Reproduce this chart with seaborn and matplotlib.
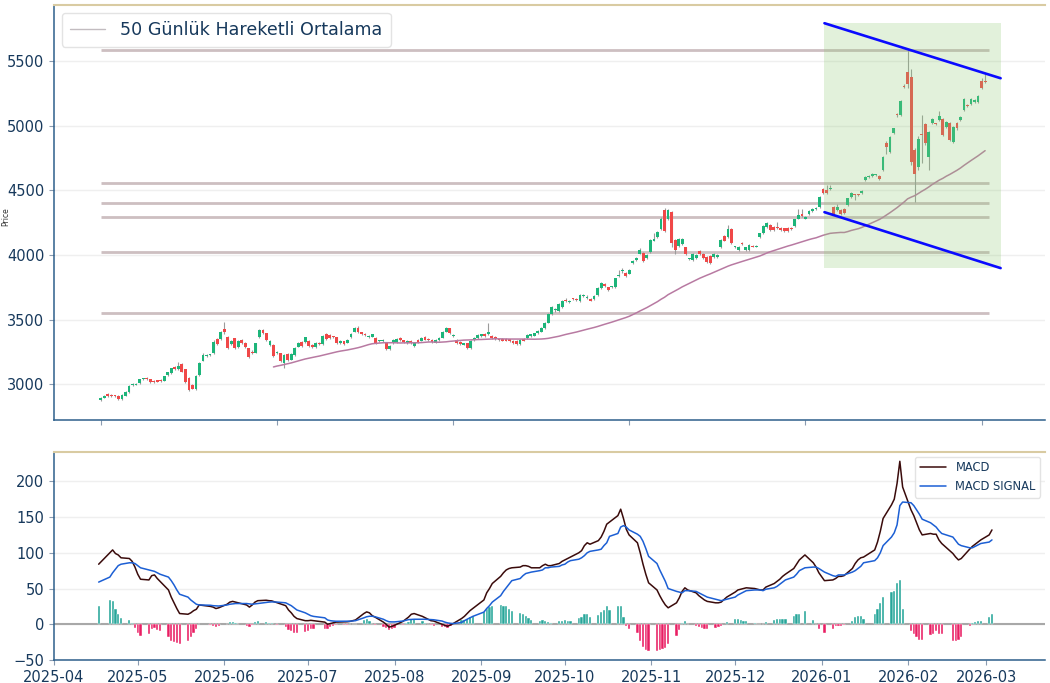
import numpy as np
import pandas as pd
import matplotlib
matplotlib.use("Agg")
import matplotlib.pyplot as plt
import matplotlib.dates as mdates
from matplotlib.lines import Line2D
import seaborn as sns

# ----------------------------------------
# Data (daily candles)
# ----------------------------------------

opens = [
    2876, 2894, 2920, 2914, 2908, 2910, 2881, 2910, 2938, 2990,
    2995, 3005, 3036, 3046, 3036, 3026, 3026, 3030, 3026, 3067,
    3085, 3134, 3116, 3152, 3116, 3044, 2992, 2964, 3070, 3181,
    3217, 3222, 3237, 3346, 3346, 3423, 3366, 3307, 3353, 3289,
    3341, 3320, 3276, 3250, 3243, 3361, 3418, 3392, 3302, 3302,
    3237, 3237, 3165, 3230, 3190, 3225, 3290, 3328, 3328, 3335,
    3305, 3285, 3318, 3307, 3387, 3380, 3368, 3362, 3316, 3330,
    3320, 3366, 3405, 3438, 3400, 3388, 3362, 3368, 3360, 3330,
    3330, 3315, 3268, 3320, 3328, 3358, 3338, 3320, 3333, 3295,
    3340, 3335, 3366, 3350, 3341, 3320, 3341, 3359, 3405, 3431,
    3370, 3345, 3328, 3305, 3315, 3276, 3340, 3353, 3370, 3387,
    3384, 3374, 3366, 3342, 3350, 3348, 3347, 3333, 3335, 3310,
    3348, 3353, 3371, 3374, 3392, 3405, 3431, 3475, 3542, 3570,
    3568, 3593, 3650, 3632, 3662, 3660, 3642, 3685, 3668, 3658,
    3658, 3689, 3746, 3774, 3748, 3752, 3748, 3836, 3872, 3861,
    3856, 3936, 3960, 4011, 4016, 3973, 4024, 4110, 4140, 4197,
    4347, 4282, 4334, 4115, 4070, 4085, 4058, 3965, 3960, 3973,
    4032, 4011, 3986, 3993, 3986, 3986, 4063, 4145, 4140, 4197,
    4060, 4040, 4093, 4037, 4037, 4068, 4065, 4135, 4171, 4218,
    4231, 4218, 4212, 4212, 4205, 4210, 4210, 4223, 4282, 4316,
    4282, 4316, 4341, 4352, 4372, 4507, 4500, 4512, 4372, 4347,
    4347, 4352, 4385, 4450, 4466, 4466, 4476, 4579, 4605, 4613,
    4615, 4613, 4656, 4863, 4798, 4945, 5085, 5085, 5305, 5417,
    5379, 4811, 4682, 4930, 5010, 4760, 5018, 5015, 5043, 5056,
    4992, 5018, 4876, 5018, 5043, 5121, 5160, 5167, 5185, 5185,
    5348, 5342,
]

highs = [
    2900, 2916, 2928, 2920, 2914, 2914, 2920, 2944, 2990, 3006,
    3008, 3040, 3050, 3054, 3040, 3030, 3032, 3036, 3064, 3094,
    3128, 3140, 3170, 3160, 3120, 3055, 3000, 3070, 3170, 3240,
    3235, 3232, 3340, 3355, 3412, 3483, 3375, 3345, 3360, 3340,
    3350, 3326, 3282, 3262, 3322, 3425, 3424, 3398, 3345, 3310,
    3255, 3244, 3232, 3240, 3240, 3288, 3326, 3334, 3368, 3340,
    3312, 3325, 3326, 3378, 3392, 3386, 3375, 3368, 3342, 3336,
    3350, 3392, 3440, 3450, 3406, 3394, 3380, 3390, 3366, 3342,
    3346, 3320, 3302, 3346, 3355, 3364, 3344, 3338, 3338, 3326,
    3346, 3366, 3372, 3356, 3346, 3346, 3364, 3410, 3444, 3436,
    3384, 3350, 3334, 3322, 3320, 3342, 3366, 3385, 3390, 3394,
    3475, 3380, 3372, 3350, 3356, 3354, 3352, 3338, 3340, 3346,
    3354, 3385, 3390, 3398, 3416, 3444, 3482, 3550, 3605, 3590,
    3626, 3650, 3670, 3650, 3668, 3668, 3696, 3700, 3688, 3664,
    3686, 3752, 3790, 3780, 3752, 3762, 3824, 3882, 3895, 3866,
    3893, 3960, 3984, 4050, 4022, 4006, 4122, 4166, 4186, 4290,
    4365, 4352, 4340, 4122, 4128, 4134, 4065, 3975, 4018, 4005,
    4040, 4018, 3992, 4000, 4012, 4005, 4122, 4152, 4230, 4205,
    4072, 4066, 4100, 4064, 4082, 4074, 4078, 4172, 4230, 4258,
    4238, 4224, 4257, 4218, 4212, 4216, 4216, 4282, 4352, 4352,
    4302, 4348, 4360, 4368, 4458, 4515, 4540, 4545, 4380, 4398,
    4354, 4360, 4444, 4490, 4472, 4474, 4500, 4612, 4616, 4634,
    4628, 4620, 4768, 4880, 4922, 4986, 5095, 5200, 5320, 5585,
    5440, 4830, 4920, 5082, 5020, 4960, 5064, 5024, 5113, 5064,
    5040, 5026, 5000, 5026, 5076, 5214, 5168, 5214, 5206, 5240,
    5370, 5397,
]

lows = [
    2870, 2890, 2902, 2900, 2898, 2878, 2876, 2906, 2934, 2984,
    2990, 3000, 3030, 3030, 3010, 3008, 3014, 3020, 3022, 3062,
    3080, 3110, 3110, 3090, 3010, 2950, 2960, 2958, 3065, 3175,
    3210, 3215, 3230, 3305, 3340, 3390, 3268, 3300, 3275, 3282,
    3310, 3282, 3205, 3236, 3238, 3355, 3385, 3334, 3296, 3210,
    3230, 3170, 3127, 3182, 3184, 3220, 3284, 3288, 3322, 3290,
    3278, 3280, 3302, 3300, 3344, 3350, 3356, 3310, 3310, 3306,
    3315, 3360, 3400, 3395, 3378, 3372, 3356, 3362, 3308, 3324,
    3325, 3262, 3262, 3314, 3322, 3335, 3318, 3314, 3308, 3290,
    3322, 3330, 3340, 3332, 3322, 3315, 3336, 3354, 3400, 3386,
    3362, 3314, 3304, 3300, 3270, 3270, 3335, 3348, 3364, 3368,
    3380, 3348, 3342, 3334, 3330, 3330, 3328, 3310, 3305, 3305,
    3330, 3348, 3366, 3370, 3386, 3400, 3426, 3470, 3536, 3562,
    3562, 3588, 3636, 3626, 3650, 3644, 3636, 3678, 3662, 3640,
    3652, 3684, 3740, 3754, 3722, 3746, 3742, 3830, 3860, 3830,
    3850, 3930, 3954, 4005, 3944, 3966, 4018, 4104, 4134, 4190,
    4180, 4272, 4060, 4011, 4064, 4078, 4000, 3958, 3954, 3966,
    4000, 3966, 3940, 3928, 3980, 3980, 4056, 4104, 4134, 4082,
    4052, 4034, 4078, 4030, 4030, 4058, 4058, 4128, 4165, 4212,
    4186, 4186, 4204, 4186, 4180, 4180, 4190, 4216, 4276, 4294,
    4276, 4310, 4335, 4346, 4366, 4470, 4470, 4505, 4308, 4340,
    4310, 4314, 4378, 4444, 4424, 4456, 4470, 4572, 4598, 4606,
    4608, 4582, 4648, 4780, 4790, 4938, 5070, 5078, 5290, 5290,
    4700, 4411, 4660, 4708, 4850, 4656, 5010, 5004, 5036, 4920,
    4984, 4880, 4868, 4970, 5036, 5114, 5148, 5160, 5178, 5178,
    5286, 5330,
]

closes = [
    2894, 2910, 2907, 2906, 2905, 2884, 2915, 2938, 2985, 3000,
    3002, 3036, 3041, 3036, 3015, 3015, 3020, 3025, 3059, 3090,
    3121, 3116, 3139, 3096, 3018, 2954, 2964, 3062, 3160, 3225,
    3225, 3226, 3328, 3312, 3405, 3400, 3276, 3335, 3281, 3333,
    3315, 3289, 3212, 3243, 3315, 3418, 3392, 3341, 3335, 3217,
    3245, 3178, 3225, 3190, 3232, 3281, 3320, 3294, 3362, 3297,
    3285, 3318, 3310, 3371, 3350, 3355, 3362, 3316, 3335, 3312,
    3345, 3387, 3433, 3400, 3385, 3378, 3375, 3385, 3315, 3336,
    3340, 3268, 3297, 3340, 3349, 3340, 3325, 3333, 3315, 3320,
    3328, 3360, 3345, 3338, 3328, 3341, 3359, 3405, 3438, 3392,
    3376, 3320, 3310, 3315, 3276, 3335, 3360, 3379, 3384, 3374,
    3405, 3353, 3348, 3340, 3335, 3335, 3333, 3315, 3310, 3340,
    3335, 3379, 3384, 3392, 3410, 3438, 3475, 3542, 3598, 3580,
    3619, 3642, 3642, 3642, 3655, 3650, 3689, 3690, 3674, 3645,
    3681, 3746, 3779, 3760, 3727, 3755, 3818, 3845, 3878, 3836,
    3887, 3952, 3978, 4042, 3950, 3999, 4115, 4127, 4179, 4282,
    4187, 4347, 4089, 4037, 4120, 4127, 4006, 3968, 4011, 3999,
    4006, 3973, 3947, 3934, 4006, 3999, 4115, 4110, 4197, 4089,
    4065, 4060, 4085, 4058, 4076, 4065, 4070, 4166, 4223, 4251,
    4192, 4192, 4210, 4192, 4187, 4187, 4197, 4275, 4308, 4300,
    4295, 4341, 4352, 4360, 4450, 4476, 4476, 4518, 4316, 4372,
    4316, 4321, 4437, 4483, 4462, 4463, 4494, 4605, 4608, 4626,
    4620, 4589, 4760, 4832, 4914, 4979, 5080, 5190, 5298, 5322,
    4721, 4625, 4901, 4925, 4863, 4953, 5056, 5012, 5074, 4927,
    5030, 4889, 4992, 4979, 5069, 5206, 5155, 5206, 5198, 5232,
    5296, 5338,
]

# trading calendar of the candles
start_day = "2025-03-03"
end_day = "2026-03-03"
holidays = ["2025-04-18", "2025-05-26", "2025-06-19", "2025-07-04", "2025-09-01",
            "2025-11-27", "2025-12-25", "2026-01-01", "2026-01-19", "2026-02-16"]

# support / resistance levels and the channel
levels = [5585, 4558, 4400, 4290, 4019, 3547]
channel_x = [205.4, 255.4]
channel_top = [5794, 5368]
channel_bottom = [4331, 3898]

# MACD panel (starts at the 34th candle)
macd_vals = [
    84, 100, 104, 99, 97, 93, 92, 88, 80,
    70, 63, 62, 68, 69, 64, 60, 48, 38, 30, 22, 15, 14, 16, 19, 21, 27, 25, 24, 22, 23,
    28, 31, 32, 31, 30, 27, 24, 27, 31, 33, 33.6, 33, 32.7, 30, 26, 20, 16, 11, 8, 5,
    5, 5.5, 5, 3, 0, 1, 2, 3, 3.3, 3.5, 4, 5, 6, 15, 17.3, 16, 12, 10, 3, 0, -4, -3,
    -1.4, 4, 7, 10, 14, 15, 11, 9, 7, 5, 4.5, 0, -1.5, -2.8, -1, 1, 8, 11, 15, 19, 22,
    34, 44, 50, 57, 67, 72, 76, 78, 79, 80, 82, 82, 81, 79, 79, 82, 84, 82, 82, 85, 88,
    90, 92, 94, 100, 103, 110, 114, 112, 117, 122, 130, 140, 143, 152, 161, 148, 133, 125,
    114, 100, 84, 70, 58,
    48, 40, 33, 27, 23, 30, 37, 46, 51, 48, 44, 40, 37, 34, 32, 30, 30, 31, 38,
    45, 48, 49, 50, 51, 50, 49, 48, 48, 52, 57, 60, 63, 67, 70, 78, 84, 90, 97, 86, 80, 72,
    61, 62, 64, 67, 67, 68, 78, 85, 90, 93, 94, 104, 115, 130, 148, 167, 175, 197, 228, 192,
    160, 152, 142, 132, 125, 127, 126, 126, 118, 113, 99, 94, 90, 92, 105, 109, 112, 115, 118,
    125, 132,
]

signal_vals = [
    59, 66, 72, 77, 82, 84, 86, 86, 85,
    82, 79, 76, 75, 74, 72, 70, 66, 61, 55, 48, 42, 38, 34, 31, 28, 27, 26.6, 26, 25.7, 25.5,
    27, 28, 28.5, 29, 29, 29, 28.5, 28, 28.5, 29, 30.5, 31, 31.3, 31, 30, 28, 26, 23, 20, 16,
    14, 12, 11, 9, 6, 5, 4.5, 4.2, 4.2, 4.2, 4.3, 4.6, 5, 9, 10.5, 11.2, 11.2, 10.5, 7, 5, 3.5, 3.3,
    3.3, 4.5, 5.5, 6.5, 6.8, 7, 7, 7, 6.8, 6.5, 6.3, 4.5, 3, 1.9, 1.3, 1, 2.5, 5, 7, 9, 11,
    17, 22, 26, 31, 40, 46, 51, 56, 61, 64, 68, 71, 72, 73, 75, 76, 79, 79, 80, 81, 83,
    84, 87, 89, 91, 93, 96, 100, 102, 104, 105, 110, 114, 123, 127, 136, 138, 136, 132,
    126, 123, 116, 106, 95,
    85, 76, 68, 60, 50, 46, 45, 44, 47, 47, 46, 44, 42, 40, 38, 35, 34, 33, 35,
    38, 41, 43, 45, 47, 48, 48, 48, 47, 49, 51, 53, 56, 59, 62, 66, 70, 75, 79, 80, 80, 78,
    73, 68, 67, 69, 69, 69, 73, 75, 78, 81, 86, 89, 93, 100, 110, 122, 128, 139, 166, 171,
    170, 166, 160, 154, 147, 142, 139, 136, 131, 127, 122, 117, 112, 110, 107, 107, 109, 111, 113,
    115, 118,
]

# ----------------------------------------
# Colours
# ----------------------------------------

GREEN = "#1db57a"
RED = "#f04848"
WICK = "#9b9b9b"
NAVY = "#17395c"
SPINE = "#2d5f8b"
TAN = "#d9cba2"

# ----------------------------------------
# Frames
# ----------------------------------------

df = pd.DataFrame({"open": opens, "high": highs, "low": lows, "close": closes})
df["idx"] = np.arange(len(df))
df["ma50"] = df["close"].rolling(50).mean()

days = pd.bdate_range(start_day, end_day)
days = days[~days.isin(pd.to_datetime(holidays))]
df["date"] = days[:len(df)]

mdf = pd.DataFrame({"date": df["date"].iloc[len(df) - len(macd_vals):].values,
                    "macd": macd_vals, "signal": signal_vals})
mdf["hist"] = mdf["macd"] - mdf["signal"]

# ----------------------------------------
# Plot
# ----------------------------------------

sns.set_theme(style="white")
plt.rcParams["font.family"] = ["DejaVu Sans"]

fig = plt.figure(figsize=(10.5, 6.83), dpi=100)
ax = fig.add_axes([54 / 1050, 263 / 683, 991 / 1050, 415 / 683])
ax2 = fig.add_axes([54 / 1050, 23 / 683, 991 / 1050, 208 / 683])

# horizontal levels
ax.hlines(levels, 0, 252, color="#cdbfc1", lw=2, zorder=1)

# candles
up = df["close"] >= df["open"]
body = (df["close"] - df["open"]).abs().clip(lower=8)
low_body = df[["open", "close"]].min(axis=1)
ax.vlines(df["idx"], df["low"], df["high"], color=WICK, lw=0.8, zorder=2)
ax.bar(df["idx"][up], body[up], bottom=low_body[up], width=0.8, color=GREEN, lw=0, zorder=3)
ax.bar(df["idx"][~up], body[~up], bottom=low_body[~up], width=0.8, color=RED, lw=0, zorder=3)

# moving average
sns.lineplot(data=df, x="idx", y="ma50", ax=ax, color="#b87aa2", lw=1.1, zorder=4, legend=False)

# channel
ax.fill_between(channel_x, channel_bottom[1], channel_top[0], color="#8fcb75",
                alpha=0.26, lw=0, zorder=5)
ax.plot(channel_x, channel_top, color="#0a0aff", lw=1.9, zorder=6)
ax.plot(channel_x, channel_bottom, color="#0a0aff", lw=1.9, zorder=6)

ax.set_xlim(-13.3, 268)
ax.set_ylim(2722, 5935)
ax.set_xticks(range(0, 251, 50))
ax.set_xticklabels([])
ax.set_yticks(range(3000, 5501, 500))
ax.set_xlabel("")
ax.set_ylabel("Price", fontsize=5.5, color="#333333")
ax.yaxis.set_label_coords(-0.044, 0.49)

leg = ax.legend([Line2D([0], [0], color="#c2bcc0", lw=1)], ["50 Günlük Hareketli Ortalama"],
                loc="upper left", fontsize=12.6, frameon=True, borderaxespad=0.45,
                handlelength=2.0, handletextpad=0.9, borderpad=0.45)
leg.get_frame().set_edgecolor("#dddddd")
for t in leg.get_texts():
    t.set_color(NAVY)

# MACD panel
colors = np.where(mdf["hist"] >= 0, "#26a69a", "#e91e63")
ax2.bar(mdf["date"], mdf["hist"], width=0.8, color=colors, edgecolor="white", lw=0.3, zorder=2)
ax2.axhline(0, color="#a8a8a8", lw=1.5, zorder=1)
sns.lineplot(data=mdf, x="date", y="macd", ax=ax2, color="#3a0b0b", lw=1.1, label="MACD", zorder=3)
sns.lineplot(data=mdf, x="date", y="signal", ax=ax2, color="#1c5fd4", lw=1.1,
             label="MACD SIGNAL", zorder=3)

ax2.set_xlim(pd.Timestamp("2025-04-01"), pd.Timestamp("2026-03-22"))
ax2.set_ylim(-50, 241)
ax2.set_yticks([-50, 0, 50, 100, 150, 200])
ax2.xaxis.set_major_locator(mdates.MonthLocator())
ax2.xaxis.set_major_formatter(mdates.DateFormatter("%Y-%m"))
ax2.set_xlabel("")
ax2.set_ylabel("")

leg2 = ax2.legend(loc="upper right", fontsize=8.3, frameon=True, borderaxespad=0.4,
                  handlelength=2.3)
leg2.get_frame().set_edgecolor("#dddddd")
for t in leg2.get_texts():
    t.set_color(NAVY)

for a in (ax, ax2):
    a.yaxis.grid(True, color="#efefef", lw=1)
    a.xaxis.grid(False)
    a.set_axisbelow(True)
    a.spines["right"].set_visible(False)
    a.spines["top"].set_color(TAN)
    a.spines["top"].set_linewidth(1.5)
    for s in ("left", "bottom"):
        a.spines[s].set_color(SPINE)
        a.spines[s].set_linewidth(1.1)
    a.tick_params(axis="both", which="major", labelsize=10.5, labelcolor=NAVY,
                  color="#8a9bb0", length=3.5, width=0.8, bottom=True, left=True)

fig.savefig("out.png", dpi=100)
